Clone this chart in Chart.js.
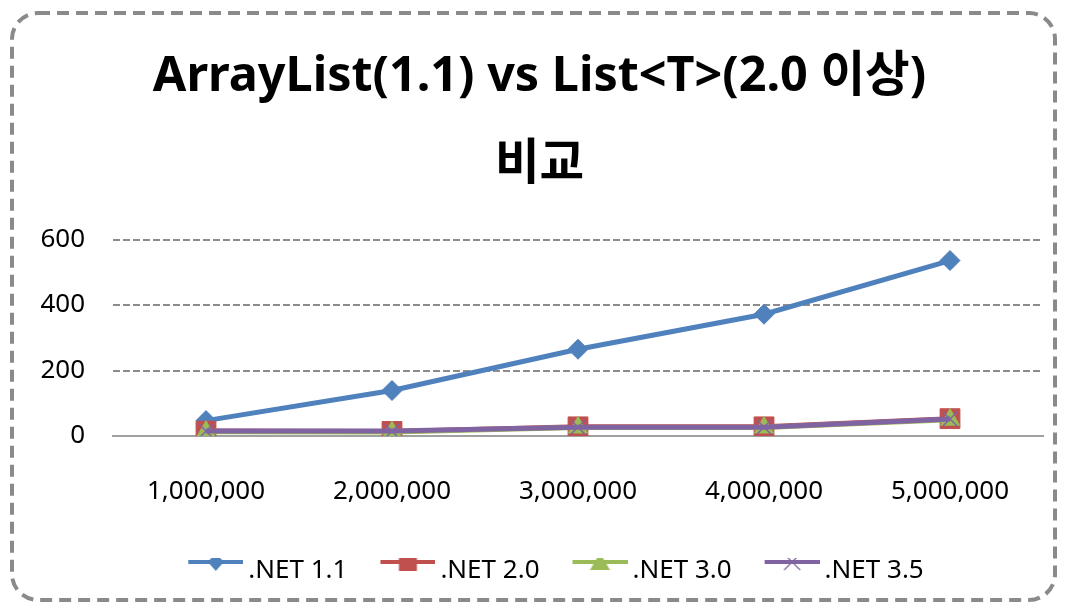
<!DOCTYPE html>
<html>
<head>
<meta charset="utf-8">
<script src="https://cdn.jsdelivr.net/npm/chart.js@4/dist/chart.umd.min.js"></script>
<style>
  html, body { margin: 0; padding: 0; background: #fff; }
  #wrap { width: 1066px; height: 605px; }
</style>
</head>
<body>
<div id="wrap"><canvas id="linechart" width="1066" height="605"></canvas></div>
<script>
// dados
const categorias = ["1,000,000", "2,000,000", "3,000,000", "4,000,000", "5,000,000"];
const net11 = [47, 139, 265, 372, 536];
const net20 = [15, 14, 28, 28, 53];
const net30 = [13, 12, 26, 26, 50];
const net35 = [15, 15, 27, 27, 52];
const nomes = [".NET 1.1", ".NET 2.0", ".NET 3.0", ".NET 3.5"];
const cores = ["#4F81BD", "#C0504D", "#9BBB59", "#8064A2"];
const yTicks = [0, 200, 400, 600];

// ícone da legenda: linha + marcador (estilo Excel)
function iconeLegenda(cor, tipo) {
    let c = document.createElement("canvas");
    c.width = 96; c.height = 40;
    let g = c.getContext("2d");
    let y = 11, x0 = 41, x1 = 96, xm = (x0 + x1) / 2;
    g.strokeStyle = cor; g.fillStyle = cor; g.lineWidth = 4;
    g.beginPath(); g.moveTo(x0, y); g.lineTo(x1, y); g.stroke();
    g.beginPath();
    if (tipo === "diamond") {
        g.moveTo(xm, y - 9); g.lineTo(xm + 8, y); g.lineTo(xm, y + 9); g.lineTo(xm - 8, y); g.closePath(); g.fill();
    } else if (tipo === "square") {
        g.fillRect(xm - 9, y - 9, 18, 18);
    } else if (tipo === "triangle") {
        g.moveTo(xm, y - 9); g.lineTo(xm + 10, y + 8); g.lineTo(xm - 10, y + 8); g.closePath(); g.fill();
    } else {
        g.lineWidth = 1.2;
        g.moveTo(xm - 8, y - 8); g.lineTo(xm + 8, y + 8);
        g.moveTo(xm + 8, y - 8); g.lineTo(xm - 8, y + 8); g.stroke();
    }
    return c;
}
const icones = [
    iconeLegenda(cores[0], "diamond"),
    iconeLegenda(cores[1], "square"),
    iconeLegenda(cores[2], "triangle"),
    iconeLegenda(cores[3], "x")
];

// fundo branco + moldura tracejada arredondada
const moldura = {
    id: "moldura",
    beforeDraw(chart) {
        let ctx = chart.ctx;
        ctx.save();
        ctx.fillStyle = "#fff";
        ctx.fillRect(0, 0, chart.width, chart.height);
        ctx.strokeStyle = "#8a8a8a";
        ctx.lineWidth = 4;
        ctx.setLineDash([12, 7]);
        ctx.beginPath();
        ctx.roundRect(12, 13, 1043, 587, 26);
        ctx.stroke();
        ctx.restore();
    }
};

let ctx = document.getElementById("linechart").getContext("2d");
new Chart(ctx, {
    type: "line",
    data: {
        labels: categorias,
        datasets: [
            { label: nomes[0], data: net11, borderColor: cores[0], backgroundColor: cores[0], borderWidth: 5,
              pointStyle: "rectRot", pointRadius: 10, pointBorderWidth: 1, order: 4 },
            { label: nomes[1], data: net20, borderColor: cores[1], backgroundColor: cores[1], borderWidth: 5,
              pointStyle: "rect", pointRadius: 14, pointBorderWidth: 1, order: 3 },
            { label: nomes[2], data: net30, borderColor: cores[2], backgroundColor: cores[2], borderWidth: 5,
              pointStyle: "triangle", pointRadius: 11, pointBorderWidth: 1, order: 2 },
            { label: nomes[3], data: net35, borderColor: cores[3], backgroundColor: cores[3], borderWidth: 5,
              pointStyle: "crossRot", pointRadius: 10, pointBorderWidth: 1.5, order: 1 }
        ]
    },
    options: {
        responsive: false,
        animation: false,
        layout: { padding: { top: 20, left: 36, right: 23, bottom: 11 } },
        elements: { line: { tension: 0 } },
        plugins: {
            tooltip: { enabled: false },
            title: {
                display: true,
                text: ["ArrayList(1.1) vs List<T>(2.0 이상)", "비교"],
                color: "#000",
                font: { family: "'Noto Sans', 'Noto Sans CJK KR', sans-serif", size: 48.5, weight: "bold", lineHeight: 1.8 },
                padding: { top: 14, bottom: 31 }
            },
            legend: {
                position: "bottom",
                labels: {
                    usePointStyle: true,
                    pointStyleWidth: 80,
                    padding: 0,
                    color: "#000",
                    font: { family: "'Noto Sans', 'Noto Sans CJK KR', sans-serif", size: 26 },
                    generateLabels: function (chart) {
                        return chart.data.datasets.map((ds, i) => ({
                            text: ds.label,
                            pointStyle: icones[i],
                            fillStyle: ds.borderColor,
                            strokeStyle: ds.borderColor,
                            lineWidth: 0,
                            hidden: false,
                            datasetIndex: i
                        }));
                    }
                }
            }
        },
        scales: {
            x: {
                offset: true,
                grid: { display: false, drawTicks: false },
                border: { display: true, color: "#a0a0a0", width: 2 },
                ticks: { color: "#000", padding: 40, maxRotation: 0,
                         font: { family: "'Noto Sans', sans-serif", size: 26 } },
                afterFit: function (scale) { scale.height = 122; }
            },
            y: {
                min: 0,
                max: 600,
                afterBuildTicks: function (scale) { scale.ticks = yTicks.map(v => ({ value: v })); },
                grid: { color: "#8c8c8c", lineWidth: 2, drawTicks: false },
                border: { display: false, dash: [7, 3] },
                ticks: { color: "#000", padding: 28,
                         font: { family: "'Noto Sans', sans-serif", size: 26 } },
                afterFit: function (scale) { scale.width = 77; }
            }
        }
    },
    plugins: [moldura]
});
</script>
</body>
</html>
